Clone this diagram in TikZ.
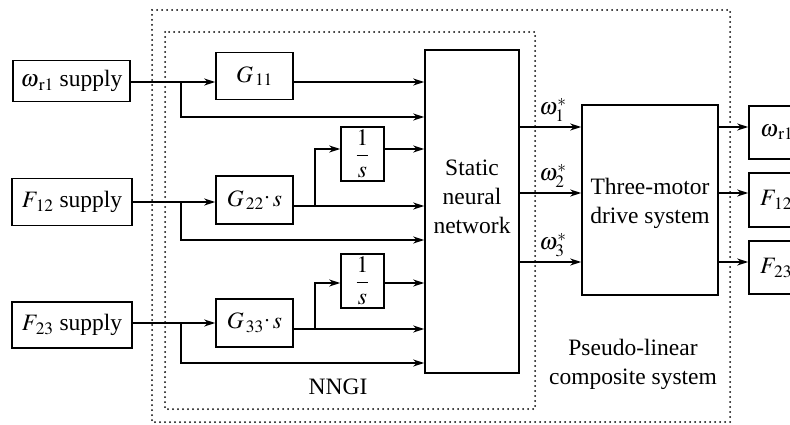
\documentclass[tikz,border=0pt]{standalone}
\usepackage{amsmath}
\usepackage{mathptmx}
\usepackage{fontspec}
\setmainfont{Liberation Serif}
\usetikzlibrary{arrows.meta}
\tikzset{
  blk/.style={draw, line width=1.6pt, inner sep=0pt},
  ln/.style={line width=1.2pt},
  arr/.style={ln, -{Stealth[length=11pt,width=7pt]}},
  dotbox/.style={line width=2pt, line cap=round, dash pattern=on 0pt off 5pt},
  txt/.style={inner sep=0pt, align=center}
}
\begin{document}
\begin{tikzpicture}[x=1pt,y=-1pt, font=\fontsize{23.5}{29}\selectfont]
\useasboundingbox (0,0) rectangle (790,425);
\clip (0,0) rectangle (790,425);
% dotted frames
\draw[dotbox] (152,10) rectangle (730,422);
\draw[dotbox] (165,32) rectangle (535,409);
% supply boxes
\node[blk, minimum width=117pt, minimum height=41pt] (s1) at (71.5,81) {$\omega_{\,\mathrm{r1}}$ supply};
\node[blk, minimum width=120pt, minimum height=47pt] (s2) at (72,202) {$F_{\,\mathrm{12}}$ supply};
\node[blk, minimum width=120pt, minimum height=46pt] (s3) at (72,325) {$F_{\,\mathrm{23}}$ supply};
% G boxes
\node[blk, minimum width=77pt, minimum height=47pt] (g1) at (254.5,76) {$G_{\,\mathrm{11}}$};
\node[blk, minimum width=77pt, minimum height=48pt] (g2) at (254.5,200) {$G_{\,\mathrm{22}}\raisebox{0.25ex}{$\boldsymbol{\cdot}$}\, s$};
\node[blk, minimum width=77pt, minimum height=48pt] (g3) at (254.5,323) {$G_{\,\mathrm{33}}\raisebox{0.25ex}{$\boldsymbol{\cdot}$}\, s$};
% integrators
\node[blk, minimum width=43pt, minimum height=54pt] (i2) at (362.5,154) {$\dfrac{1}{s}$};
\node[blk, minimum width=43pt, minimum height=54pt] (i3) at (362.5,281) {$\dfrac{1}{s}$};
% network
\node[blk, minimum width=94pt, minimum height=323pt] (n) at (472,211.5) {};
\node[txt] (nt) at (472,197) {Static\\neural\\network};
% three-motor
\node[blk, minimum width=136pt, minimum height=190pt] (m) at (650,200) {};
\node[txt] (mt) at (650,203) {Three-motor\\drive system};
% output boxes
\node[blk, minimum width=81pt, minimum height=53pt] (r1) at (789.5,132.5) {};
\node[blk, minimum width=81pt, minimum height=54pt] (r2) at (789.5,200) {};
\node[blk, minimum width=81pt, minimum height=53pt] (r3) at (789.5,267.5) {};
\node[txt, anchor=west] (r1t) at (760,132) {$\omega_{\,\mathrm{r1}}$};
\node[txt, anchor=west] (r2t) at (760,200) {$F_{\,\mathrm{12}}$};
\node[txt, anchor=west] (r3t) at (760,268) {$F_{\,\mathrm{23}}$};
% branch points
\coordinate (b1) at (181,82);
\coordinate (b2) at (181,202);
\coordinate (b3) at (181,323);
\coordinate (o2) at (315,206);
\coordinate (o3) at (315,329);
% row 1
\draw[ln] (s1.east |- b1) -- (b1);
\draw[arr] (b1) -- (g1.west |- b1);
\draw[arr] (g1.east |- b1) -- (n.west |- b1);
\draw[arr] (b1) |- (n.west |- 0,117);
% row 2
\draw[ln] (s2.east |- b2) -- (b2);
\draw[arr] (b2) -- (g2.west |- b2);
\draw[arr] (g2.east |- o2) -- (n.west |- o2);
\draw[arr] (o2) |- (i2.west |- 0,149);
\draw[arr] (i2.east |- 0,149) -- (n.west |- 0,149);
\draw[arr] (b2) |- (n.west |- 0,240);
% row 3
\draw[ln] (s3.east |- b3) -- (b3);
\draw[arr] (b3) -- (g3.west |- b3);
\draw[arr] (g3.east |- o3) -- (n.west |- o3);
\draw[arr] (o3) |- (i3.west |- 0,283);
\draw[arr] (i3.east |- 0,283) -- (n.west |- 0,283);
\draw[arr] (b3) |- (n.west |- 0,363);
% network outputs
\draw[arr] (n.east |- 0,127) -- (m.west |- 0,127);
\draw[arr] (n.east |- 0,193) -- (m.west |- 0,193);
\draw[arr] (n.east |- 0,262) -- (m.west |- 0,262);
\node[txt] (w1) at (553,110) {$\omega_1^*$};
\node[txt] (w2) at (553,176) {$\omega_2^*$};
\node[txt] (w3) at (553,245) {$\omega_3^*$};
% system outputs
\draw[arr] (m.east |- 0,127) -- (r1.west |- 0,127);
\draw[arr] (m.east |- 0,193) -- (r2.west |- 0,193);
\draw[arr] (m.east |- 0,262) -- (r3.west |- 0,262);
% labels
\node[txt] (nngi) at (338,387) {NNGI};
\node[txt] (pls) at (633,364) {Pseudo-linear\\composite system};
\end{tikzpicture}
\end{document}
